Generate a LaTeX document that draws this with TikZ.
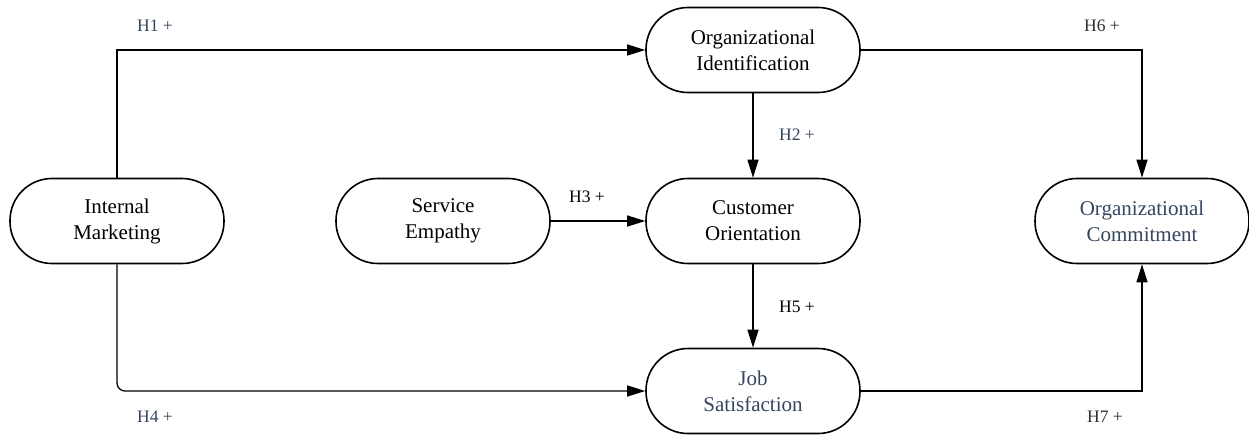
\documentclass[tikz,border=0pt]{standalone}
\usepackage{fontspec}
\setmainfont{Liberation Serif}
\usetikzlibrary{arrows.meta}
\definecolor{slate}{HTML}{34465C}
\definecolor{darkg}{HTML}{2E2E2E}
\begin{document}
\begin{tikzpicture}[x=1pt,y=-1pt,
  box/.style={draw, line width=1.6pt, rounded corners=42pt, minimum width=214pt, minimum height=85pt, inner sep=0pt, align=center, font=\fontsize{21}{26}\selectfont},
  conn/.style={line width=1.3pt, -{Triangle[length=18pt,width=11pt]}},
  lab/.style={font=\fontsize{17.5}{20}\selectfont, inner sep=0pt}]
\useasboundingbox (0,0) rectangle (1249,434);
\node[box] (im) at (117,221) {Internal\\Marketing};
\node[box] (se) at (443,221) {Service\\Empathy};
\node[box] (co) at (753,221) {Customer\\Orientation};
\node[box] (oi) at (753,50) {Organizational\\Identification};
\node[box, text=slate] (js) at (753,391) {Job\\Satisfaction};
\node[box, text=slate] (oc) at (1142,221) {Organizational\\Commitment};
\draw[conn] (im.north) |- (oi.west);
\draw[conn, rounded corners=8pt] (im.south) |- (js.west);
\draw[conn] (se.east) -- (co.west);
\draw[conn] (oi.south) -- (co.north);
\draw[conn] (co.south) -- (js.north);
\draw[conn] (oi.east) -| (oc.north);
\draw[conn] (js.east) -| (oc.south);
\node[lab, text=slate] (h1) at (155,26) {H1 +};
\node[lab, text=slate] (h4) at (155,417) {H4 +};
\node[lab] (h3) at (587,197) {H3 +};
\node[lab, text=slate] (h2) at (797,135) {H2 +};
\node[lab] (h5) at (797,307) {H5 +};
\node[lab, text=darkg] (h6) at (1102,26) {H6 +};
\node[lab, text=darkg] (h7) at (1105,417) {H7 +};
\end{tikzpicture}
\end{document}
